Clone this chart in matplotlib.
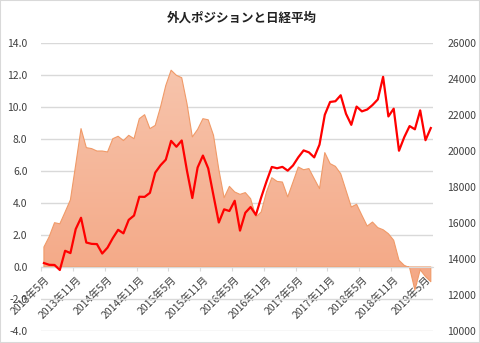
import numpy as np
import matplotlib.pyplot as plt
from matplotlib.colors import LinearSegmentedColormap

plt.rcParams['font.family'] = ['Noto Sans CJK JP', 'DejaVu Sans']

# monthly data, 2013/5 - 2019/6
months = [f'{y}年{m}月' for y in range(2013, 2020) for m in range(1, 13)][4:4 + 74]

# foreign investor position (left axis)
position = [1.25, 1.9, 2.77, 2.7, 3.44, 4.2, 6.4, 8.65, 7.46, 7.4, 7.25, 7.25,
            7.19, 8.02, 8.17, 7.9, 8.23, 8.02, 9.27, 9.52, 8.65, 8.85, 10.0, 11.35,
            12.3, 11.98, 11.83, 10.2, 8.13, 8.6, 9.27, 9.2, 8.23, 6.1, 4.33, 5.04,
            4.69, 4.54, 4.65, 4.27, 3.13, 3.44, 4.69, 5.58, 5.35, 5.31, 4.38, 5.31,
            6.25, 6.08, 6.15, 5.52, 4.9, 7.15, 6.46, 6.29, 5.83, 4.79, 3.75, 3.92,
            3.23, 2.56, 2.81, 2.46, 2.33, 2.08, 1.67, 0.42, 0.1, -0.04, -1.44, -0.17,
            -0.6, -0.92]

# Nikkei average, month-end (right axis)
nikkei = [13774, 13677, 13668, 13389, 14456, 14328, 15662, 16291,
          14915, 14841, 14828, 14304, 14632, 15162, 15621, 15425, 16174, 16414, 17460, 17451,
          17674, 18798, 19207, 19520, 20563, 20236, 20585, 18890, 17388, 19083, 19747, 19034,
          17518, 16027, 16759, 16666, 17235, 15576, 16569, 16887, 16450, 17425, 18308, 19114,
          19041, 19119, 18909, 19197, 19651, 20033, 19925, 19646, 20356, 22012, 22725, 22765,
          23098, 22068, 21454, 22468, 22202, 22305, 22554, 22865, 24120, 21920, 22351, 20015,
          20773, 21385, 21206, 22259, 20601, 21276]

x = np.arange(len(months))
txt = '#404040'
grid = '#D9D9D9'

fig = plt.figure(figsize=(4.8, 3.43), dpi=100)
fig.patches.append(plt.Rectangle((0, 0), 1, 1, transform=fig.transFigure,
                                 fill=False, edgecolor=grid, linewidth=1.5))
ax = fig.add_axes([0.086, 0.035, 0.817, 0.8396])
ax.set_axisbelow(True)

# area with vertical gradient
area = ax.fill_between(x, 0, position, facecolor='none', edgecolor='#F09A68',
                       linewidth=0.8, zorder=2)
cmap = LinearSegmentedColormap.from_list('g', ['#F4A784', '#F7C4AC'])
grad = np.linspace(0, 1, 256).reshape(-1, 1)
im = ax.imshow(grad, cmap=cmap, origin='lower', aspect='auto',
               extent=[-0.5, len(x) - 0.5, -1.5, 12.3], zorder=1)
im.set_clip_path(area.get_paths()[0], transform=ax.transData)

ax.set_xlim(-0.5, len(x) - 0.5)
ax.set_ylim(-4, 14)
ax.set_yticks(np.arange(-4, 15, 2))
ax.set_yticklabels([f'{v:.1f}' for v in np.arange(-4, 15, 2)])
ax.grid(axis='y', color=grid, linewidth=1)
ax.tick_params(axis='y', length=0, pad=10, labelsize=7.5, labelcolor=txt)
for s in ['top', 'right', 'left']:
    ax.spines[s].set_visible(False)
ax.spines['bottom'].set_position(('data', 0))
ax.spines['bottom'].set_color(grid)
ax.spines['bottom'].set_zorder(3)

ax2 = ax.twinx()
ax2.plot(x, nikkei, color='#FF0000', linewidth=1.6, zorder=4)
ax2.set_ylim(10000, 26000)
ax2.set_yticks(np.arange(10000, 26001, 2000))
ax2.tick_params(axis='y', length=0, pad=10, labelsize=7.5, labelcolor=txt)
for s in ax2.spines.values():
    s.set_visible(False)

# category axis at zero: marks between categories, labels on categories
ax.set_xticks(np.arange(0, len(x) + 1, 6) - 0.5)
ax.set_xticklabels([])
ax.set_xticks(np.arange(0, len(x), 6), minor=True)
ax.set_xticklabels(months[::6], minor=True)
ax.tick_params(axis='x', which='major', length=3, color=grid)
ax.tick_params(axis='x', which='minor', length=0, pad=5, labelsize=7.5,
               labelcolor=txt, labelrotation=45)

fig.text(0.504, 1 - 18 / 343, '外人ポジションと日経平均', ha='center', va='center',
         fontsize=9, fontweight='bold', color='#222222')

fig.canvas.draw()
for lab in ax.get_xticklabels(minor=True):
    lab.set_horizontalalignment('right')
    lab.set_rotation_mode('anchor')

plt.savefig('out.png', dpi=100)
